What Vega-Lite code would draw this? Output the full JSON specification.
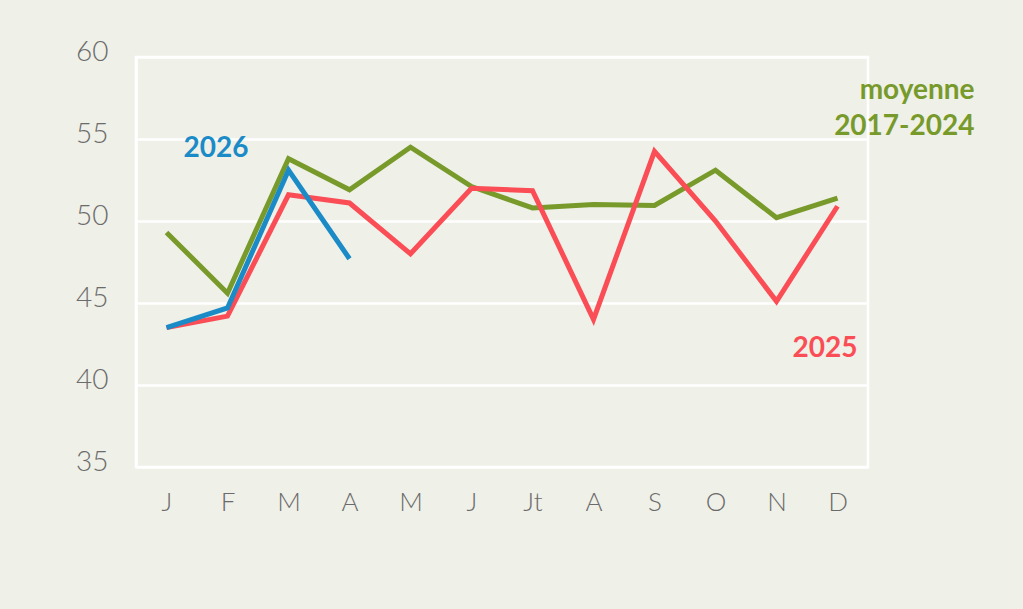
{
  "$schema": "https://vega.github.io/schema/vega-lite/v6.json",
  "width": 732,
  "height": 410,
  "autosize": {"type": "none"},
  "padding": {"left": 136, "top": 57, "right": 155, "bottom": 142},
  "background": "#eff0e8",
  "config": {
    "view": {"stroke": "#ffffff", "strokeWidth": 2.5},
    "font": "Lato"
  },
  "datasets": {
    "lines": [
      {"m": 1, "serie": "moyenne", "v": 49.3},
      {"m": 2, "serie": "moyenne", "v": 45.6},
      {"m": 3, "serie": "moyenne", "v": 53.8},
      {"m": 4, "serie": "moyenne", "v": 51.9},
      {"m": 5, "serie": "moyenne", "v": 54.5},
      {"m": 6, "serie": "moyenne", "v": 52.1},
      {"m": 7, "serie": "moyenne", "v": 50.8},
      {"m": 8, "serie": "moyenne", "v": 51.0},
      {"m": 9, "serie": "moyenne", "v": 50.95},
      {"m": 10, "serie": "moyenne", "v": 53.1},
      {"m": 11, "serie": "moyenne", "v": 50.2},
      {"m": 12, "serie": "moyenne", "v": 51.4},
      {"m": 1, "serie": "2025", "v": 43.5},
      {"m": 2, "serie": "2025", "v": 44.2},
      {"m": 3, "serie": "2025", "v": 51.6},
      {"m": 4, "serie": "2025", "v": 51.1},
      {"m": 5, "serie": "2025", "v": 48.0},
      {"m": 6, "serie": "2025", "v": 52.0},
      {"m": 7, "serie": "2025", "v": 51.85},
      {"m": 8, "serie": "2025", "v": 44.0},
      {"m": 9, "serie": "2025", "v": 54.25},
      {"m": 10, "serie": "2025", "v": 50.0},
      {"m": 11, "serie": "2025", "v": 45.1},
      {"m": 12, "serie": "2025", "v": 50.9},
      {"m": 1, "serie": "2026", "v": 43.5},
      {"m": 2, "serie": "2026", "v": 44.7},
      {"m": 3, "serie": "2026", "v": 53.1},
      {"m": 4, "serie": "2026", "v": 47.7}
    ],
    "labels": [
      {"m": 1, "v": 54.4, "serie": "2026", "t": "2026", "pos": "left"},
      {"m": 12, "v": 57.9, "serie": "moyenne", "t": "moyenne", "pos": "right"},
      {"m": 12, "v": 55.75, "serie": "moyenne", "t": "2017-2024", "pos": "right"},
      {"m": 12, "v": 42.2, "serie": "2025", "t": "2025", "pos": "right2"}
    ]
  },
  "encoding": {
    "x": {
      "field": "m",
      "type": "ordinal",
      "scale": {"domain": [1,2,3,4,5,6,7,8,9,10,11,12], "type": "point", "padding": 0.5},
      "axis": {
        "title": null,
        "domain": false,
        "ticks": false,
        "grid": false,
        "labelAngle": 0,
        "labelFontSize": 26,
        "labelFontWeight": 300,
        "labelColor": "#6b6b6b",
        "labelPadding": 22,
        "labelExpr": "['J','F','M','A','M','J','Jt','A','S','O','N','D'][datum.value-1]"
      }
    },
    "y": {
      "field": "v",
      "type": "quantitative",
      "scale": {"domain": [35, 60], "nice": false, "zero": false},
      "axis": {
        "title": null,
        "values": [35, 40, 45, 50, 55, 60],
        "domain": true,
        "domainColor": "#ffffff",
        "domainWidth": 2.5,
        "ticks": false,
        "grid": true,
        "gridColor": "#ffffff",
        "gridWidth": 2.5,
        "gridOpacity": 1,
        "labelFontSize": 28,
        "labelFontWeight": 300,
        "labelColor": "#6b6b6b",
        "labelPadding": 28,
        "labelOffset": -4.5
      }
    },
    "color": {
      "field": "serie",
      "type": "nominal",
      "scale": {"domain": ["moyenne", "2025", "2026"], "range": ["#779a2b", "#fa4d55", "#1b8bc7"]},
      "legend": null
    }
  },
  "layer": [
    {
      "data": {"name": "lines"},
      "mark": {"type": "line", "strokeWidth": 5, "strokeJoin": "miter", "strokeCap": "butt"},
      "encoding": {
        "order": {"field": "m", "type": "quantitative"},
        "detail": {"field": "serie"}
      }
    },
    {
      "data": {"name": "labels"},
      "transform": [{"filter": "datum.pos == 'left'"}],
      "mark": {"type": "text", "align": "left", "baseline": "middle", "dx": 17, "fontSize": 28, "fontWeight": "bold", "clip": false},
      "encoding": {"text": {"field": "t"}}
    },
    {
      "data": {"name": "labels"},
      "transform": [{"filter": "datum.pos == 'right'"}],
      "mark": {"type": "text", "align": "right", "baseline": "middle", "dx": 137, "fontSize": 28, "fontWeight": "bold", "clip": false},
      "encoding": {"text": {"field": "t"}}
    },
    {
      "data": {"name": "labels"},
      "transform": [{"filter": "datum.pos == 'right2'"}],
      "mark": {"type": "text", "align": "right", "baseline": "middle", "dx": 20, "fontSize": 28, "fontWeight": "bold", "clip": false},
      "encoding": {"text": {"field": "t"}}
    }
  ]
}
